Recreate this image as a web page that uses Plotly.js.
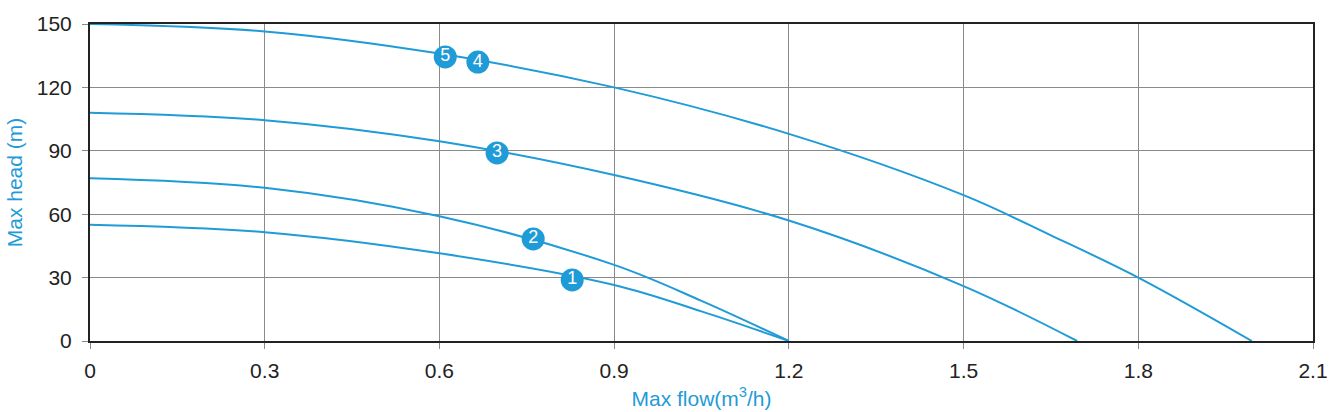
<!DOCTYPE html>
<html><head><meta charset="utf-8">
<script src="https://cdn.plot.ly/plotly-3.0.1.min.js"></script>
<style>body{margin:0;background:#fff}#c{width:1333px;height:412px}</style>
</head><body><div id="c"></div>
<script>
const flow45 = [0, 0.3, 0.6, 0.9, 1.2, 1.5, 1.65, 1.8, 1.995];
const head45 = [150, 146.5, 136, 120, 98, 69, 50, 30, 0];
const flow3 = [0, 0.3, 0.6, 0.9, 1.2, 1.5, 1.695];
const head3 = [108, 104.5, 94.5, 78.5, 57, 26, 0];
const flow2 = [0, 0.3, 0.6, 0.9, 1.05, 1.2];
const head2 = [77, 72.5, 59, 36, 19, 0];
const flow1 = [0, 0.3, 0.6, 0.9, 1.05, 1.2];
const head1 = [55, 51.5, 41.5, 26.5, 14, 0];
const labelText = ['5', '4', '3', '2', '1'];
const labelFlow = [0.61, 0.666, 0.699, 0.761, 0.828];
const labelHead = [134.4, 132, 89, 48.3, 28.9];
const xTicks = [0, 0.3, 0.6, 0.9, 1.2, 1.5, 1.8, 2.1];
const yTicks = [0, 30, 60, 90, 120, 150];

const blue = '#1f9bd7';
const fam = 'Liberation Sans, Arial, sans-serif';
const line = {color: blue, width: 2, shape: 'spline', smoothing: 1};
const traces = [
  {x: flow45, y: head45, mode: 'lines', line: line},
  {x: flow3, y: head3, mode: 'lines', line: line},
  {x: flow2, y: head2, mode: 'lines', line: line},
  {x: flow1, y: head1, mode: 'lines', line: line},
  {x: labelFlow, y: labelHead, text: labelText, mode: 'markers+text',
   marker: {size: 23, color: blue}, textposition: 'middle center',
   textfont: {color: '#fff', size: 18, family: fam}}
];
const layout = {
  width: 1333, height: 412, showlegend: false,
  margin: {l: 90, r: 20, t: 24, b: 71},
  paper_bgcolor: '#fff', plot_bgcolor: '#fff',
  font: {family: fam, color: '#222', size: 21},
  xaxis: {range: [0, 2.1], tickvals: xTicks, ticktext: xTicks.map(String),
    showgrid: true, gridcolor: '#8a8a8a', gridwidth: 1, zeroline: false,
    showline: true, mirror: true, linecolor: '#222', linewidth: 2,
    ticks: 'outside', ticklen: 6, tickcolor: '#8a8a8a', ticklabelstandoff: 4,
    tickfont: {size: 21, color: '#222'},
    title: {text: 'Max flow(m<sup>3</sup>/h)', font: {color: blue, size: 21}, standoff: 10}},
  yaxis: {range: [0, 150], tickvals: yTicks,
    showgrid: true, gridcolor: '#8a8a8a', gridwidth: 1, zeroline: false,
    showline: true, mirror: true, linecolor: '#222', linewidth: 2,
    ticks: 'outside', ticklen: 6, tickcolor: '#8a8a8a', ticklabelstandoff: 6,
    tickfont: {size: 21, color: '#222'},
    title: {text: 'Max head (m)', font: {color: blue, size: 21}, standoff: 8}}
};
Plotly.newPlot('c', traces, layout, {displayModeBar: false});
</script></body></html>
